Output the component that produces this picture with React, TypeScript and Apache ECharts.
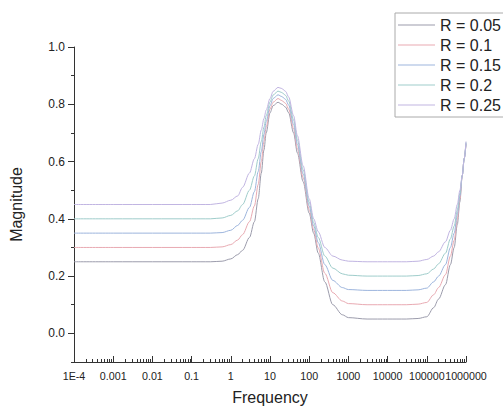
import React, { useEffect, useRef } from 'react';
import * as echarts from 'echarts';

// Frequency sample points (Hz)
const freq = [1e-4, 0.001, 0.01, 0.1, 0.3, 0.6, 1, 1.5, 2, 3, 4, 5, 6, 7, 8, 10, 12, 16, 20, 25, 30, 40, 50, 70, 100, 130, 170, 250, 400, 700, 1000, 3000, 10000, 30000, 60000, 100000, 150000, 200000, 300000, 400000, 500000, 600000, 700000, 800000, 900000, 1000000];

const magR005 = [0.25, 0.25, 0.25, 0.25, 0.25, 0.252, 0.26, 0.275, 0.29, 0.335, 0.39, 0.47, 0.56, 0.64, 0.70, 0.77, 0.795, 0.807, 0.80, 0.79, 0.77, 0.70, 0.63, 0.53, 0.42, 0.35, 0.28, 0.18, 0.10, 0.065, 0.055, 0.05, 0.05, 0.05, 0.052, 0.058, 0.09, 0.12, 0.17, 0.24, 0.30, 0.38, 0.46, 0.55, 0.61, 0.66];
const magR010 = [0.30, 0.30, 0.30, 0.30, 0.30, 0.302, 0.31, 0.326, 0.345, 0.39, 0.445, 0.52, 0.60, 0.67, 0.72, 0.783, 0.807, 0.820, 0.813, 0.803, 0.783, 0.715, 0.645, 0.544, 0.432, 0.362, 0.298, 0.21, 0.142, 0.113, 0.104, 0.10, 0.10, 0.10, 0.102, 0.108, 0.135, 0.16, 0.205, 0.27, 0.325, 0.398, 0.47, 0.55, 0.61, 0.662];
const magR015 = [0.35, 0.35, 0.35, 0.35, 0.35, 0.352, 0.36, 0.377, 0.395, 0.44, 0.495, 0.565, 0.635, 0.695, 0.74, 0.795, 0.82, 0.833, 0.827, 0.817, 0.797, 0.73, 0.66, 0.557, 0.445, 0.375, 0.317, 0.24, 0.185, 0.16, 0.153, 0.15, 0.15, 0.15, 0.152, 0.158, 0.18, 0.20, 0.24, 0.30, 0.35, 0.415, 0.48, 0.55, 0.61, 0.665];
const magR020 = [0.40, 0.40, 0.40, 0.40, 0.40, 0.403, 0.412, 0.428, 0.45, 0.50, 0.55, 0.61, 0.67, 0.72, 0.76, 0.808, 0.832, 0.846, 0.841, 0.831, 0.811, 0.745, 0.675, 0.571, 0.458, 0.387, 0.335, 0.27, 0.228, 0.208, 0.203, 0.20, 0.20, 0.20, 0.202, 0.208, 0.225, 0.243, 0.28, 0.33, 0.375, 0.43, 0.49, 0.55, 0.61, 0.667];
const magR025 = [0.45, 0.45, 0.45, 0.45, 0.45, 0.455, 0.465, 0.48, 0.51, 0.56, 0.61, 0.66, 0.71, 0.75, 0.78, 0.82, 0.845, 0.859, 0.855, 0.845, 0.825, 0.76, 0.69, 0.585, 0.47, 0.40, 0.355, 0.30, 0.27, 0.256, 0.252, 0.25, 0.25, 0.25, 0.252, 0.258, 0.27, 0.285, 0.32, 0.36, 0.40, 0.45, 0.50, 0.55, 0.61, 0.67];

const seriesNames = ['R = 0.05', 'R = 0.1', 'R = 0.15', 'R = 0.2', 'R = 0.25'];
const seriesValues = [magR005, magR010, magR015, magR020, magR025];

const xTickLabels = ['1E-4', '0.001', '0.01', '0.1', '1', '10', '100', '1000', '10000', '100000', '1000000'];
const yMajorTicks = [0, 0.2, 0.4, 0.6, 0.8, 1.0];
const yMinorTicks = [-0.1, 0.1, 0.3, 0.5, 0.7, 0.9];

const lineColors = ['#9c9cac', '#e9aab2', '#9db5dd', '#9fcdcb', '#c1b5e2'];

export default function App() {
  const ref = useRef<HTMLDivElement>(null);
  useEffect(() => {
    const chart = echarts.init(ref.current as HTMLDivElement, null, { renderer: 'svg' });
    const font = '"Liberation Sans", Arial, sans-serif';
    const minorX: number[] = [];
    for (let d = -4; d < 6; d++) {
      for (let k = 2; k <= 9; k++) minorX.push(d + Math.log10(k));
    }
    const majorX: number[] = [];
    for (let d = -4; d <= 6; d++) majorX.push(d);
    const axisColor = '#333';
    chart.setOption({
      animation: false,
      backgroundColor: '#ffffff',
      grid: { left: 72, right: 37, top: 47, bottom: 44, containLabel: false },
      legend: {
        left: 395,
        top: 13,
        orient: 'vertical',
        data: seriesNames,
        icon: 'rect',
        itemWidth: 37,
        itemHeight: 1,
        itemGap: 4,
        padding: [4, 20, 4, 3],
        borderColor: '#aaaaaa',
        borderWidth: 1,
        textStyle: { fontSize: 16, color: '#222', fontFamily: font },
      },
      xAxis: [
        {
          type: 'value',
          min: -4,
          max: 6,
          interval: 1,
          name: 'Frequency',
          nameLocation: 'middle',
          nameGap: 27,
          nameTextStyle: { fontSize: 16, color: '#222', fontFamily: font },
          axisLine: { show: true, onZero: false, lineStyle: { color: axisColor, width: 1 } },
          axisTick: { show: true, inside: true, length: 6, lineStyle: { color: axisColor } },
          axisLabel: {
            customValues: majorX,
            formatter: (v: number) => xTickLabels[Math.round(v) + 4] ?? '',
            fontSize: 10.7,
            color: '#222',
            margin: 8,
            showMinLabel: true,
            showMaxLabel: true,
            hideOverlap: false,
            fontFamily: font,
          },
          splitLine: { show: false },
        },
        {
          type: 'value',
          min: -4,
          max: 6,
          position: 'bottom',
          axisLine: { show: false, onZero: false },
          axisTick: { show: true, inside: true, length: 3, customValues: minorX, lineStyle: { color: axisColor } },
          axisLabel: { show: false },
          splitLine: { show: false },
        },
      ],
      yAxis: [
        {
          type: 'value',
          min: -0.1,
          max: 1.0,
          interval: 0.1,
          name: 'Magnitude',
          nameLocation: 'middle',
          nameGap: 50,
          nameTextStyle: { fontSize: 16, color: '#222', fontFamily: font },
          axisLine: { show: true, onZero: false, lineStyle: { color: axisColor, width: 1 } },
          axisTick: { show: true, inside: false, length: 6, customValues: yMajorTicks, lineStyle: { color: axisColor } },
          axisLabel: {
            customValues: yMajorTicks,
            formatter: (v: number) => {
              const n = Math.round(v * 10);
              return n % 2 === 0 && n >= 0 ? (n / 10).toFixed(1) : '';
            },
            fontSize: 12,
            color: '#222',
            margin: 9,
            fontFamily: font,
          },
          splitLine: { show: false },
        },
        {
          type: 'value',
          min: -0.1,
          max: 1.0,
          position: 'left',
          axisLine: { show: false, onZero: false },
          axisTick: { show: true, inside: false, length: 3, customValues: yMinorTicks, lineStyle: { color: axisColor } },
          axisLabel: { show: false },
          splitLine: { show: false },
        },
      ],
      series: seriesNames.map((name, i) => ({
        name,
        type: 'line',
        xAxisIndex: 0,
        yAxisIndex: 0,
        symbol: 'none',
        smooth: 0.3,
        smoothMonotone: 'x',
        lineStyle: { color: lineColors[i], width: 1 },
        itemStyle: { color: lineColors[i] },
        data: freq.map((f, j) => [Math.log10(f), seriesValues[i][j]]),
      })),
    });
    return () => chart.dispose();
  }, []);
  return (
    <div
      ref={ref}
      style={{ position: 'fixed', left: 0, top: 0, width: 503, height: 410 }}
    />
  );
}
